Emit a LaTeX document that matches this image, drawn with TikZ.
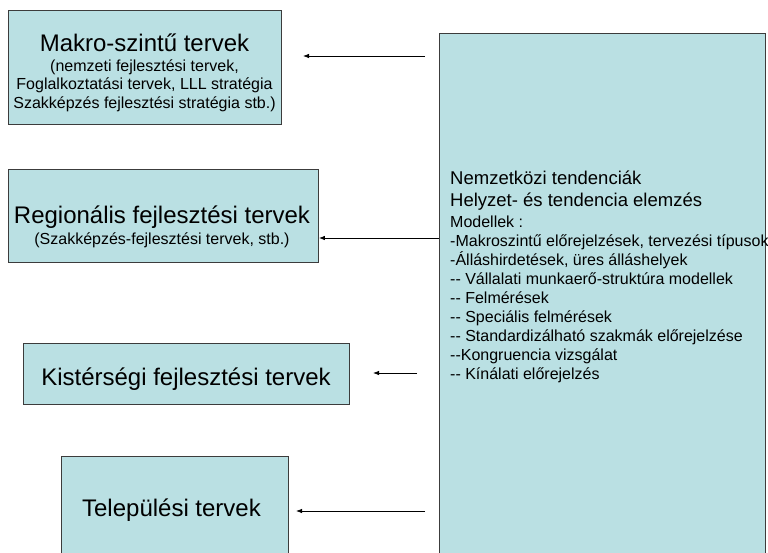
\documentclass[tikz,border=0pt]{standalone}
\usepackage{fontspec}
\setmainfont{Liberation Sans}
\usetikzlibrary{arrows.meta}
\definecolor{boxfill}{RGB}{186,224,227}
\definecolor{boxline}{RGB}{60,60,60}
\tikzset{
  box/.style={draw=boxline, line width=0.9pt, fill=boxfill, inner sep=0pt, anchor=north west},
  big/.style={font=\fontsize{24}{28}\selectfont, inner sep=0pt, align=center},
  mixed/.style={font=\fontsize{16}{18.5}\selectfont, inner sep=0pt, align=center},
  arr/.style={-{Latex[length=6pt,width=4.5pt]}, line width=0.8pt, black},
}
\newcommand{\bigtxt}[1]{{\fontsize{24}{28}\selectfont #1}}
\newcommand{\midtxt}[1]{{\fontsize{18.5}{22}\selectfont #1}}
\begin{document}
\begin{tikzpicture}[x=1pt,y=-1pt]
\clip (0,0) rectangle (768,552);
\fill[white] (0,0) rectangle (768,552);
% boxes
\node[box, minimum width=273pt, minimum height=114pt] (M) at (8,10) {};
\node[box, minimum width=310pt, minimum height=93pt] (G) at (8,169) {};
\node[box, minimum width=326pt, minimum height=61pt] (K) at (23,343) {};
\node[box, minimum width=227pt, minimum height=110pt] (T) at (61,456) {};
\node[box, minimum width=326pt, minimum height=530pt] (R) at (439,33) {};
% texts
\node[mixed, anchor=north] (Mt) at (144.5,34) {\bigtxt{Makro-szintű tervek}\\[1pt]
  (nemzeti fejlesztési tervek,\\
  Foglalkoztatási tervek, LLL stratégia\\
  Szakképzés fejlesztési stratégia stb.)};
\node[mixed, anchor=north] (Gt) at (162,206) {\bigtxt{Regionális fejlesztési tervek}\\[2pt]
  (Szakképzés-fejlesztési tervek, stb.)};
\node[big, anchor=base] (Kt) at (186,385.6) {Kistérségi fejlesztési tervek};
\node[big, anchor=base] (Tt) at (171.5,516.6) {Települési tervek};
\node[inner sep=0pt, align=left, anchor=north west, font=\fontsize{16}{19}\selectfont] (Rt) at (450,171) {%
  \midtxt{Nemzetközi tendenciák}\\[3pt]
  \midtxt{Helyzet- és tendencia elemzés}\\[2pt]
  Modellek :\\
  -Makroszintű előrejelzések, tervezési típusok\\
  -Álláshirdetések, üres álláshelyek\\
  -{}- Vállalati munkaerő-struktúra modellek\\
  -{}- Felmérések\\
  -{}- Speciális felmérések\\
  -{}- Standardizálható szakmák előrejelzése\\
  -{}-Kongruencia vizsgálat\\
  -{}- Kínálati előrejelzés};
% arrows
\coordinate (a1s) at (425,56);
\coordinate (a1e) at (303,56);
\coordinate (a3s) at (417,373);
\coordinate (a3e) at (373,373);
\coordinate (a4s) at (425,511);
\coordinate (a4e) at (296,511);
\draw[arr] (a1s) -- (a1e);
\draw[arr] (R.west |- 0,238) -- (G.east |- 0,238);
\draw[arr] (a3s) -- (a3e);
\draw[arr] (a4s) -- (a4e);
\end{tikzpicture}
\end{document}
